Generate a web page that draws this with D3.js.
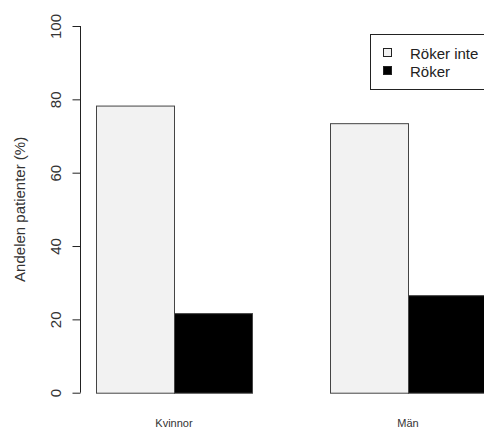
<!DOCTYPE html>
<html>
<head>
<meta charset="utf-8">
<script src="https://cdn.jsdelivr.net/npm/d3@7"></script>
<style>
body { margin: 0; background: #fff; }
svg { display: block; }
text { font-family: "Liberation Sans", Arial, sans-serif; }
</style>
</head>
<body>
<svg id="chart" width="484" height="430"></svg>
<script>
const categories = ["Kvinnor", "Män"];
const seriesNames = ["Röker inte", "Röker"];
const rokerInte = [78.3, 73.5];
const roker = [21.7, 26.6];
const yTicks = [0, 20, 40, 60, 80, 100];
const yLabel = "Andelen patienter (%)";
const colors = ["#f2f2f2", "#000000"];

const svg = d3.select("#chart");
const W = 484, H = 430;

const y = d3.scaleLinear().domain([0, 100]).range([392.7, 26]);
// bar units: group g, series s -> unit position 1 + g*3 + s
const x = d3.scaleLinear().domain([0, 6]).range([18, 486]);

const data = [];
categories.forEach((c, g) => {
  [rokerInte, roker].forEach((arr, s) => {
    data.push({ cat: c, g, s, v: arr[g] });
  });
});

svg.append("defs").append("clipPath").attr("id", "clip")
  .append("rect").attr("x", 0).attr("y", 0).attr("width", W).attr("height", H);

const bars = svg.append("g").attr("clip-path", "url(#clip)");
bars.selectAll("rect").data(data).enter().append("rect")
  .attr("x", d => x(1 + d.g * 3 + d.s) + 0.5)
  .attr("width", d => x(2) - x(1))
  .attr("y", d => y(d.v) + 0.5)
  .attr("height", d => y(0) - y(d.v))
  .attr("fill", d => colors[d.s])
  .attr("stroke", "#444")
  .attr("stroke-width", 1);

// y axis
const yAxis = d3.axisLeft(y).tickValues(yTicks).tickSize(8).tickFormat(d3.format("d"));
const ax = svg.append("g").attr("transform", "translate(80.5,0)").call(yAxis);
ax.select(".domain").attr("stroke", "#222").attr("d", `M0,${y(0)}V${y(100)}`);
ax.selectAll(".tick line").attr("stroke", "#222");
ax.selectAll(".tick text")
  .attr("x", null).attr("dy", null)
  .attr("transform", "translate(-20,0) rotate(-90)")
  .attr("text-anchor", "middle")
  .attr("font-size", 15)
  .attr("fill", "#333")
  .attr("font-family", "Liberation Sans, Arial, sans-serif");

svg.append("text")
  .attr("transform", `translate(24.5,${(y(0) + y(100)) / 2}) rotate(-90)`)
  .attr("text-anchor", "middle")
  .attr("font-size", 15)
  .attr("fill", "#333")
  .text(yLabel);

// category labels
svg.selectAll(".cat").data(categories).enter().append("text")
  .attr("class", "cat")
  .attr("x", (d, i) => x(2 + i * 3))
  .attr("y", 427)
  .attr("text-anchor", "middle")
  .attr("font-size", 11)
  .attr("fill", "#333")
  .text(d => d);

// legend
const lg = svg.append("g");
lg.append("rect").attr("x", 370.5).attr("y", 34.5).attr("width", 130).attr("height", 55)
  .attr("fill", "#fff").attr("stroke", "#222");
seriesNames.forEach((n, i) => {
  const cy = 53 + i * 18;
  lg.append("rect").attr("x", 383.5).attr("y", cy - 4.5).attr("width", 8).attr("height", 8)
    .attr("fill", colors[i]).attr("stroke", "#222");
  lg.append("text").attr("x", 410).attr("y", cy + 5.5)
    .attr("font-size", 15).attr("fill", "#222").text(n);
});
</script>
</body>
</html>
